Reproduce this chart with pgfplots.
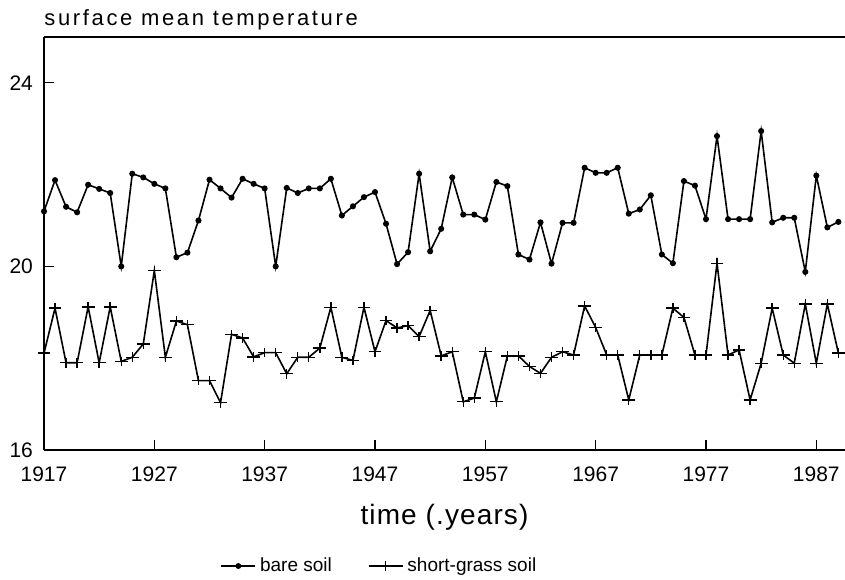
\documentclass[border=0pt]{standalone}
\usepackage{pgfplots}
\pgfplotsset{compat=1.18}
\usepackage{fontspec}
\setmainfont{Liberation Sans}
\newfontfamily\titlefont{Liberation Sans}[LetterSpace=12]
\newfontfamily\labelfont{Liberation Sans}[LetterSpace=4]
\begin{document}
\begin{tikzpicture}
\begin{axis}[
  scale only axis, width=400.5pt, height=206.5pt,
  xmin=1917, xmax=1989.6, ymin=16, ymax=25,
  axis x line=box, axis y line=left,
  axis line style={-, line width=0.8pt},
  x axis line style={-}, y axis line style={-},
  xtick={1917,1927,1937,1947,1957,1967,1977,1987},
  ytick={16,20,24},
  xtick pos=bottom, ytick pos=left, tick align=inside,
  major tick length=5pt,
  tick style={line width=0.6pt, black},
  /pgf/number format/assume math mode=true,
  /pgf/number format/1000 sep={},
  ticklabel style={font=\fontsize{10.5}{12}\selectfont},
  xticklabel style={yshift=-5pt},
  yticklabel style={xshift=-2pt},
  title={surface mean temperature},
  every axis title/.style={at={(axis description cs:0,1)}, anchor=base west, yshift=5.5pt, inner sep=0pt, font=\titlefont\fontsize{11}{13}\selectfont},
  xlabel={time (.years)},
  xlabel style={at={(axis description cs:0.5,0)}, anchor=base, yshift=-37.5pt, font=\labelfont\fontsize{14}{16}\selectfont},
  legend style={at={(axis description cs:0.42,-0.281)}, anchor=center, draw=none, legend columns=2,
    font=\fontsize{9.5}{11}\selectfont, /tikz/every even column/.append style={column sep=16pt}},
  legend image post style={line width=0.7pt},
]
\addplot[black, line width=0.8pt, mark=*, mark size=1.1pt] table {
1917 21.2
1918 21.88
1919 21.3
1920 21.18
1921 21.78
1922 21.69
1923 21.6
1924 20.0
1925 22.02
1926 21.94
1927 21.8
1928 21.7
1929 20.2
1930 20.3
1931 21.0
1932 21.89
1933 21.7
1934 21.5
1935 21.91
1936 21.8
1937 21.7
1938 20.0
1939 21.71
1940 21.6
1941 21.7
1942 21.7
1943 21.91
1944 21.11
1945 21.31
1946 21.51
1947 21.62
1948 20.93
1949 20.05
1950 20.31
1951 22.02
1952 20.33
1953 20.82
1954 21.94
1955 21.13
1956 21.13
1957 21.02
1958 21.84
1959 21.75
1960 20.26
1961 20.15
1962 20.96
1963 20.06
1964 20.95
1965 20.95
1966 22.15
1967 22.04
1968 22.04
1969 22.15
1970 21.15
1971 21.24
1972 21.55
1973 20.26
1974 20.07
1975 21.86
1976 21.76
1977 21.03
1978 22.84
1979 21.03
1980 21.03
1981 21.03
1982 22.95
1983 20.96
1984 21.06
1985 21.06
1986 19.88
1987 21.98
1988 20.85
1989 20.97
};
\addlegendentry{bare soil}
\addplot[black, line width=0.8pt, mark=+, mark size=3.2pt, mark options={yscale=0.75, line width=0.7pt}] table {
1917 18.11
1918 19.09
1919 17.9
1920 17.9
1921 19.12
1922 17.9
1923 19.12
1924 17.93
1925 18.02
1926 18.31
1927 19.91
1928 18.02
1929 18.81
1930 18.73
1931 17.51
1932 17.51
1933 17.03
1934 18.52
1935 18.44
1936 18.03
1937 18.12
1938 18.12
1939 17.66
1940 18.02
1941 18.02
1942 18.22
1943 19.11
1944 18.02
1945 17.95
1946 19.11
1947 18.14
1948 18.82
1949 18.66
1950 18.71
1951 18.47
1952 19.04
1953 18.05
1954 18.14
1955 17.05
1956 17.13
1957 18.14
1958 17.05
1959 18.05
1960 18.05
1961 17.82
1962 17.67
1963 18.02
1964 18.14
1965 18.07
1966 19.14
1967 18.67
1968 18.07
1969 18.07
1970 17.09
1971 18.07
1972 18.07
1973 18.07
1974 19.09
1975 18.89
1976 18.07
1977 18.07
1978 20.07
1979 18.07
1980 18.18
1981 17.09
1982 17.89
1983 19.09
1984 18.07
1985 17.89
1986 19.18
1987 17.89
1988 19.18
1989 18.11
};
\addlegendentry{short-grass soil}
\coordinate (SW) at (rel axis cs:0,0);
\coordinate (NE) at (rel axis cs:1,1);
\end{axis}
\pgfresetboundingbox
\path[use as bounding box] ([xshift=-22pt,yshift=-65pt]SW) rectangle ([yshift=18.5pt]NE);
\end{tikzpicture}
\end{document}
